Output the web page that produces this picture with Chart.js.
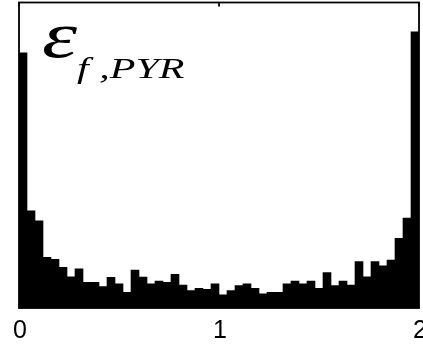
<!DOCTYPE html>
<html>
<head>
<meta charset="utf-8">
<script src="https://cdn.jsdelivr.net/npm/chart.js@4.4.0/dist/chart.umd.min.js"></script>
<style>
  html, body { margin: 0; padding: 0; background: #fff; }
  #wrap { width: 423px; height: 351px; }
</style>
</head>
<body>
<div id="wrap"><canvas id="hist"></canvas></div>
<script>
// histogram of eps_f,PYR, 50 bins over [0, 2] (bar heights in % of axis height)
const binStart = 0;
const binWidth = 0.04;
const counts = [
  83.5, 31.8, 28.5, 16.6, 15.9, 13.3, 10.2, 12.8, 8.4, 8.4,
  7.0, 10.0, 7.9, 5.1, 12.4, 10.1, 7.9, 8.8, 8.4, 11.0,
  7.5, 5.7, 6.4, 6.1, 7.9, 4.3, 5.7, 7.3, 7.9, 6.4,
  4.6, 5.1, 5.1, 7.9, 8.8, 7.9, 8.8, 6.4, 11.6, 7.3,
  8.8, 7.5, 15.2, 10.2, 15.2, 13.8, 15.7, 22.8, 29.4, 90.4
];
const xTicks = [0, 1, 2];
const yMax = 100;

const points = counts.map(function(c, i) {
    return { x: binStart + binWidth * (i + 0.5), y: c };
});

const framePlugin = {
    id: 'frame',
    afterDatasetsDraw(chart) {
        const ctx = chart.ctx;
        const a = chart.chartArea;
        const xs = chart.scales.x;
        ctx.save();
        ctx.strokeStyle = '#000';
        ctx.lineWidth = 1.8;
        ctx.strokeRect(a.left, a.top, a.right - a.left, a.bottom - a.top);
        // inward tick marks on top edge
        xTicks.forEach(function(t) {
            const px = xs.getPixelForValue(t);
            ctx.beginPath();
            ctx.moveTo(px, a.top);
            ctx.lineTo(px, a.top + 4);
            ctx.stroke();
        });
        // tick labels
        ctx.fillStyle = '#000';
        ctx.font = '25px "Liberation Sans", Arial, sans-serif';
        ctx.textAlign = 'center';
        ctx.textBaseline = 'alphabetic';
        xTicks.forEach(function(t) {
            ctx.fillText(String(t), xs.getPixelForValue(t) + 1, 338);
        });
        // label epsilon_{f,PYR}
        ctx.textAlign = 'left';
        ctx.save();
        ctx.translate(42, 57);
        ctx.scale(1.35, 1);
        ctx.font = 'italic 66px "Liberation Serif", "Times New Roman", serif';
        ctx.fillText('\u03b5', 0, 0);
        ctx.restore();
        ctx.save();
        ctx.translate(77, 78);
        ctx.scale(1.45, 1);
        ctx.font = 'italic 29px "Liberation Serif", "Times New Roman", serif';
        ctx.fillText('f ,PYR', 0, 0);
        ctx.restore();
        ctx.restore();
    }
};

new Chart(document.getElementById('hist'), {
    type: 'bar',
    data: {
        datasets: [{
            data: points,
            backgroundColor: '#000',
            borderWidth: 0,
            barPercentage: 1,
            categoryPercentage: 1
        }]
    },
    options: {
        responsive: true,
        maintainAspectRatio: false,
        animation: false,
        layout: { padding: { left: 19, right: 4, top: 2.5, bottom: 43 } },
        plugins: { legend: { display: false }, tooltip: { enabled: false } },
        scales: {
            x: { type: 'linear', min: 0, max: 2, display: false, offset: false },
            y: { min: 0, max: yMax, display: false }
        }
    },
    plugins: [framePlugin]
});
</script>
</body>
</html>
